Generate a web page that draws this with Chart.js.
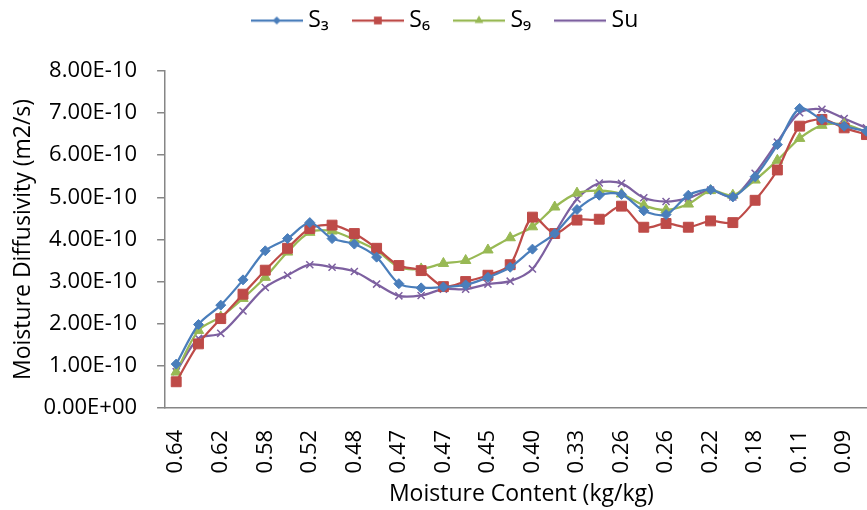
<!DOCTYPE html>
<html>
<head>
<meta charset="utf-8">
<script src="https://cdn.jsdelivr.net/npm/chart.js@4.4.1/dist/chart.umd.min.js"></script>
<style>
  html, body { margin: 0; padding: 0; background: #fff; overflow: hidden; }
  #wrap { width: 915px; height: 510px; }
</style>
</head>
<body>
<div id="wrap"><canvas id="chart" width="915" height="510"></canvas></div>
<script>
// moisture content (kg/kg) per sample; only every other one is labelled on the axis
const moistureContent = [
  '0.64', '0.63', '0.62', '0.60', '0.58', '0.55', '0.52', '0.50',
  '0.48', '0.47', '0.47', '0.47', '0.47', '0.46', '0.45', '0.43',
  '0.40', '0.37', '0.33', '0.30', '0.26', '0.26', '0.26', '0.24',
  '0.22', '0.20', '0.18', '0.15', '0.11', '0.10', '0.09', '0.08'
];

// moisture diffusivity, in units of 1E-10 m2/s
const s3 = [1.04, 1.98, 2.44, 3.04, 3.73, 4.02, 4.40, 4.02, 3.89, 3.58, 2.95, 2.85, 2.87, 2.92, 3.10, 3.34,
            3.77, 4.14, 4.71, 5.05, 5.07, 4.68, 4.59, 5.05, 5.18, 5.01, 5.49, 6.25, 7.11, 6.85, 6.69, 6.57];
const s6 = [0.62, 1.52, 2.12, 2.70, 3.27, 3.79, 4.26, 4.34, 4.14, 3.79, 3.38, 3.26, 2.88, 3.00, 3.15, 3.40,
            4.53, 4.14, 4.46, 4.48, 4.79, 4.29, 4.38, 4.29, 4.44, 4.40, 4.93, 5.65, 6.69, 6.85, 6.65, 6.49];
const s9 = [0.85, 1.84, 2.16, 2.60, 3.10, 3.70, 4.17, 4.20, 4.00, 3.74, 3.34, 3.30, 3.43, 3.50, 3.75, 4.04,
            4.30, 4.77, 5.10, 5.16, 5.08, 4.81, 4.70, 4.84, 5.16, 5.05, 5.41, 5.88, 6.40, 6.71, 6.73, 6.55];
const su = [0.86, 1.65, 1.77, 2.30, 2.86, 3.15, 3.40, 3.34, 3.24, 2.94, 2.66, 2.67, 2.82, 2.82, 2.94, 3.01,
            3.30, 4.15, 4.96, 5.34, 5.33, 4.99, 4.90, 4.98, 5.17, 5.01, 5.57, 6.31, 7.01, 7.09, 6.87, 6.65];

const seriesNames = ['S\u2083', 'S\u2086', 'S\u2089', 'Su'];
const seriesData = [s3, s6, s9, su];
const lineColors = ['#4A7EBB', '#BE4B48', '#98B954', '#7D60A0'];
const markers = [
  { pointStyle: 'rectRot', radius: 5, legendRadius: 4 },
  { pointStyle: 'rect', radius: 7, legendRadius: 5.5 },
  { pointStyle: 'triangle', radius: 6, legendRadius: 5 },
  { pointStyle: 'crossRot', radius: 5, legendRadius: 4 }
];

const FONT = "'Open Sans', 'DejaVu Sans', sans-serif";

// legend icon: short line with the marker in the middle, like Excel
function legendIcon(i) {
  const c = document.createElement('canvas');
  c.width = 52; c.height = 14;
  const ctx = c.getContext('2d');
  ctx.strokeStyle = lineColors[i];
  ctx.lineWidth = 2.25;
  ctx.beginPath();
  ctx.moveTo(0, 7); ctx.lineTo(52, 7);
  ctx.stroke();
  ctx.fillStyle = lineColors[i];
  ctx.lineWidth = markers[i].pointStyle === 'crossRot' ? 1.5 : 1;
  Chart.helpers.drawPoint(ctx, { pointStyle: markers[i].pointStyle, radius: markers[i].legendRadius, rotation: 0 }, 26, 7);
  return c;
}

function sciLabel(v) {
  const parts = (v * 1e-10).toExponential(2).split('e');
  const sign = parts[1][0];
  const exp = parts[1].slice(1).padStart(2, '0');
  return parts[0] + 'E' + sign + exp;
}

// push the plot down below the legend, and nudge the legend left
const legendGap = {
  id: 'legendGap',
  beforeInit(chart) {
    const fit = chart.legend.fit;
    chart.legend.fit = function () {
      fit.bind(chart.legend)();
      this.height += 29;
    };
  },
  afterLayout(chart) {
    chart.legend.left -= 10;
    chart.legend.right -= 10;
  }
};

function build() {
  const legendIcons = seriesNames.map((_, i) => legendIcon(i));

  new Chart(document.getElementById('chart'), {
    type: 'line',
    data: {
      labels: moistureContent,
      datasets: seriesNames.map((name, i) => ({
        label: name,
        data: seriesData[i],
        borderColor: lineColors[i],
        backgroundColor: lineColors[i],
        borderWidth: 2.25,
        tension: 0.3,
        pointStyle: markers[i].pointStyle,
        pointRadius: markers[i].radius,
        pointBorderWidth: markers[i].pointStyle === 'crossRot' ? 1.5 : 1,
        pointBackgroundColor: lineColors[i],
        pointBorderColor: lineColors[i]
      }))
    },
    options: {
      responsive: false,
      animation: false,
      layout: { padding: { left: 10, right: 10, top: -20, bottom: 2 } },
      plugins: {
        legend: {
          position: 'top',
          labels: {
            usePointStyle: true,
            pointStyleWidth: 40,
            padding: 29,
            color: '#000',
            font: { family: FONT, size: 23 },
            generateLabels(chart) {
              return chart.data.datasets.map((ds, i) => ({
                text: ds.label,
                fillStyle: lineColors[i],
                strokeStyle: lineColors[i],
                lineWidth: 0,
                pointStyle: legendIcons[i],
                fontColor: '#000',
                hidden: false,
                datasetIndex: i
              }));
            }
          }
        },
        tooltip: { enabled: false }
      },
      scales: {
        x: {
          offset: true,
          grid: { display: false, drawTicks: false },
          border: { display: true, color: '#868686', width: 1.5 },
          ticks: {
            autoSkip: false,
            minRotation: 90,
            maxRotation: 90,
            padding: 22,
            color: '#000',
            font: { family: FONT, size: 22 },
            callback(value, index) {
              return index % 2 === 0 ? this.getLabelForValue(value) : '';
            }
          },
          title: {
            display: true,
            text: 'Moisture Content (kg/kg)',
            color: '#000',
            font: { family: FONT, size: 23 },
            padding: { top: -15, bottom: 0 }
          }
        },
        y: {
          min: 0,
          max: 8,
          grid: { display: true, drawOnChartArea: false, drawTicks: true, tickLength: 8, color: '#868686', lineWidth: 1.5 },
          border: { display: true, color: '#868686', width: 1.5 },
          ticks: {
            stepSize: 1,
            padding: 20,
            color: '#000',
            font: { family: FONT, size: 22 },
            callback: v => sciLabel(v)
          },
          title: {
            display: true,
            text: 'Moisture Diffusivity (m2/s)',
            color: '#000',
            font: { family: FONT, size: 23 },
            padding: { top: 0, bottom: -14 }
          }
        }
      }
    },
    plugins: [legendGap]
  });
}

// make sure the font is ready before Chart.js measures its labels
Promise.all([
  document.fonts.load('22px "Open Sans"'),
  document.fonts.load('23px "Open Sans"')
]).then(build, build);
</script>
</body>
</html>
